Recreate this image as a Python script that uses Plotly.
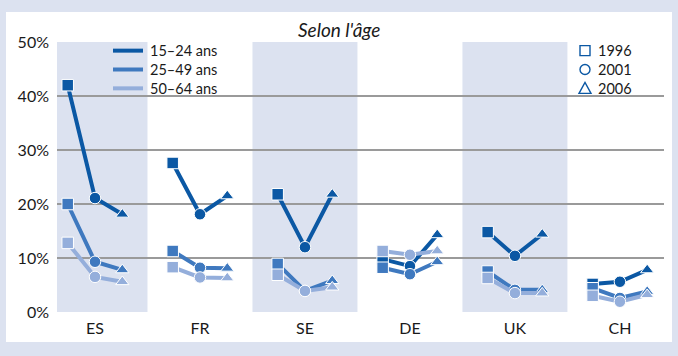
import plotly.graph_objects as go

countries = ["ES", "FR", "SE", "DE", "UK", "CH"]
years = ["1996", "2001", "2006"]
age_groups = ["15–24 ans", "25–49 ans", "50–64 ans"]

# values per country, in year order 1996, 2001, 2006 (%)
v_15_24 = [42.0, 21.1, 18.1, 27.6, 18.1, 21.5, 21.8, 12.0, 21.8,
           9.8, 8.5, 14.3, 14.8, 10.4, 14.4, 5.2, 5.6, 7.8]
v_25_49 = [20.0, 9.3, 7.8, 11.3, 8.2, 8.1, 8.9, 3.9, 5.8,
           8.2, 7.0, 9.3, 7.5, 4.1, 4.1, 4.4, 2.6, 3.8]
v_50_64 = [12.8, 6.5, 5.6, 8.3, 6.4, 6.3, 6.9, 3.9, 4.6,
           11.3, 10.6, 11.3, 6.3, 3.5, 3.5, 3.0, 1.9, 3.2]

y_ticks = [0, 10, 20, 30, 40, 50]
y_ticktext = [f"{v}%" for v in y_ticks]

colors = ["#0B58A4", "#3F79BF", "#94AEDB"]
symbols = ["square", "circle", "triangle-up"]
offset = 0.26
FONT = "Lato"

W, H = 678, 356
ML, MR, MT, MB = 57, 14, 42, 44
PW, PH = W - ML - MR, H - MT - MB


def px(x):
    return (x - ML) / PW


def py(y):
    return (H - MB - y) / PH


fig = go.Figure()

for series, name, col in zip([v_15_24, v_25_49, v_50_64], age_groups, colors):
    xs, ys, syms = [], [], []
    for i in range(len(countries)):
        for j in range(len(years)):
            xs.append(i + (j - 1) * offset)
            ys.append(series[i * 3 + j])
            syms.append(symbols[j])
        xs.append(None)
        ys.append(None)
        syms.append("circle")
    fig.add_trace(go.Scatter(
        x=xs, y=ys, mode="lines+markers", showlegend=False, name=name,
        line=dict(color=col, width=4),
        marker=dict(symbol=syms, size=11.5, color=col, line=dict(color="white", width=1)),
        cliponaxis=False,
    ))

shapes = [dict(type="rect", xref="paper", yref="paper",
               x0=px(6), x1=px(672), y0=py(342), y1=py(12),
               fillcolor="white", line=dict(width=0), layer="below")]
for i in range(0, len(countries), 2):
    shapes.append(dict(type="rect", xref="x", yref="y",
                       x0=i - 0.5, x1=i + 0.5, y0=0, y1=50,
                       fillcolor="#DCE2F0", line=dict(width=0), layer="below"))

annotations = [dict(text="<i>Selon l'âge</i>", xref="paper", yref="paper",
                    x=px(339), y=py(30), xanchor="center", yanchor="middle",
                    showarrow=False, font=dict(size=19))]

LEG_FONT = 14.5
spacing = 1.3 * LEG_FONT
mid = 69.5
row_y = [mid - spacing, mid, mid + spacing]

# legend (age groups): line swatches + one multi-line label block
for col, ry in zip(colors, row_y):
    shapes.append(dict(type="line", xref="paper", yref="paper",
                       x0=px(113), x1=px(143), y0=py(ry), y1=py(ry),
                       line=dict(color=col, width=4), layer="above"))
annotations.append(dict(text="<br>".join(age_groups), xref="paper", yref="paper",
                        x=px(149), y=py(mid), xanchor="left", yanchor="middle",
                        align="left", borderpad=0, showarrow=False,
                        font=dict(size=LEG_FONT)))

# legend (years): open symbol swatches + one multi-line label block
sx, r = 585, 5
dark = colors[0]
shapes.append(dict(type="rect", xref="paper", yref="paper",
                   x0=px(sx - r), x1=px(sx + r), y0=py(row_y[0] + r), y1=py(row_y[0] - r),
                   line=dict(color=dark, width=1.4), fillcolor="rgba(0,0,0,0)", layer="above"))
shapes.append(dict(type="circle", xref="paper", yref="paper",
                   x0=px(sx - r), x1=px(sx + r), y0=py(row_y[1] + r), y1=py(row_y[1] - r),
                   line=dict(color=dark, width=1.4), fillcolor="rgba(0,0,0,0)", layer="above"))
ty = row_y[2]
shapes.append(dict(type="path", xref="paper", yref="paper",
                   path=f"M {px(sx - 6)} {py(ty + 5)} L {px(sx + 6)} {py(ty + 5)} L {px(sx)} {py(ty - 6)} Z",
                   line=dict(color=dark, width=1.4), fillcolor="rgba(0,0,0,0)", layer="above"))
annotations.append(dict(text="<br>".join(years), xref="paper", yref="paper",
                        x=px(597), y=py(mid), xanchor="left", yanchor="middle",
                        align="left", borderpad=0, showarrow=False,
                        font=dict(size=LEG_FONT)))

fig.update_layout(
    width=W, height=H,
    margin=dict(l=ML, r=MR, t=MT, b=MB, autoexpand=False),
    paper_bgcolor="#DCE2F0", plot_bgcolor="white",
    font=dict(family=FONT, size=16, color="#1a1a1a"),
    showlegend=False,
    shapes=shapes,
    annotations=annotations,
    xaxis=dict(range=[-0.362, 5.42], tickvals=list(range(len(countries))),
               ticktext=countries, showgrid=False, zeroline=False, automargin=False,
               ticks="", ticklabelstandoff=5, fixedrange=True),
    yaxis=dict(range=[0, 50], tickvals=y_ticks, ticktext=y_ticktext, automargin=False,
               showgrid=True, gridcolor="#9A9A9A", gridwidth=1.5,
               zeroline=False, ticks="", ticklabelstandoff=7),
)

fig.write_html(
    "out.html",
    config={"displayModeBar": False},
    post_script="document.body.style.margin='0';document.body.style.overflow='hidden';",
)
